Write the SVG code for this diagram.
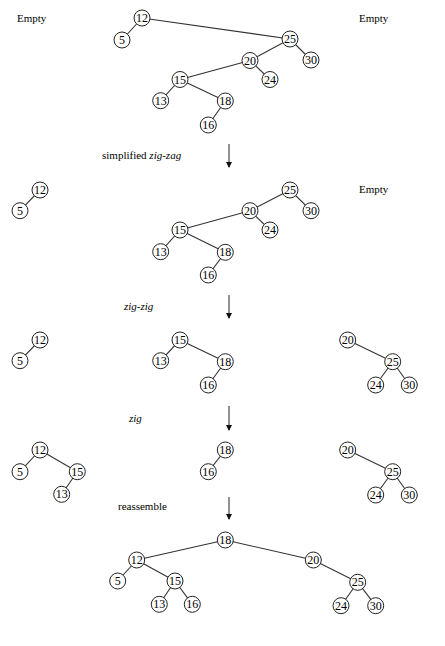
<svg xmlns="http://www.w3.org/2000/svg" width="445" height="646" viewBox="0 0 445 646">
<defs>
<marker id="ah" markerWidth="6" markerHeight="7" refX="5" refY="3" orient="auto" markerUnits="userSpaceOnUse">
<path d="M0,0 L6,3 L0,6 Z" fill="#111"/>
</marker>
<style>
.e{stroke:#333;stroke-width:1.1;fill:none}
.a{stroke:#222;stroke-width:1;fill:none;marker-end:url(#ah)}
circle{fill:#fff;stroke:#222;stroke-width:1}
text{font-family:"Liberation Serif","Times New Roman",serif;fill:#000}
.n{font-size:12px;text-anchor:middle;dominant-baseline:central}
.l{font-size:11px}
.i{font-style:italic}
</style>
</defs>
<rect width="445" height="646" fill="#fff"/>
<g id="connectors">
<line class="e" x1="142" y1="18" x2="290" y2="39"/>
<line class="e" x1="142" y1="18" x2="122" y2="40"/>
<line class="e" x1="290" y1="39" x2="250" y2="60.5"/>
<line class="e" x1="290" y1="39" x2="311" y2="60"/>
<line class="e" x1="250" y1="60.5" x2="180" y2="79.5"/>
<line class="e" x1="250" y1="60.5" x2="270" y2="79.5"/>
<line class="e" x1="180" y1="79.5" x2="160.7" y2="100.7"/>
<line class="e" x1="180" y1="79.5" x2="225.3" y2="101"/>
<line class="e" x1="225.3" y1="101" x2="208.3" y2="125"/>
<line class="e" x1="40" y1="190" x2="20" y2="210.7"/>
<line class="e" x1="290" y1="190" x2="250" y2="210.7"/>
<line class="e" x1="290" y1="190" x2="311" y2="210.7"/>
<line class="e" x1="250" y1="210.7" x2="180" y2="230"/>
<line class="e" x1="250" y1="210.7" x2="270" y2="230"/>
<line class="e" x1="180" y1="230" x2="160.7" y2="251.7"/>
<line class="e" x1="180" y1="230" x2="225.3" y2="252.3"/>
<line class="e" x1="225.3" y1="252.3" x2="208.3" y2="275"/>
<line class="e" x1="40" y1="340" x2="20" y2="360.7"/>
<line class="e" x1="180" y1="340" x2="160.7" y2="360.7"/>
<line class="e" x1="180" y1="340" x2="225.3" y2="361.7"/>
<line class="e" x1="225.3" y1="361.7" x2="208.3" y2="385"/>
<line class="e" x1="347.7" y1="340" x2="392.7" y2="361.7"/>
<line class="e" x1="392.7" y1="361.7" x2="375.7" y2="385"/>
<line class="e" x1="392.7" y1="361.7" x2="409.3" y2="385"/>
<line class="e" x1="40" y1="450" x2="20" y2="471.7"/>
<line class="e" x1="40" y1="450" x2="77.3" y2="471.7"/>
<line class="e" x1="77.3" y1="471.7" x2="61.7" y2="494.3"/>
<line class="e" x1="225.3" y1="450" x2="208.3" y2="471.7"/>
<line class="e" x1="347.7" y1="450" x2="392.7" y2="471.7"/>
<line class="e" x1="392.7" y1="471.7" x2="375.7" y2="495"/>
<line class="e" x1="392.7" y1="471.7" x2="409.3" y2="495"/>
<line class="e" x1="225.3" y1="540" x2="136.7" y2="560"/>
<line class="e" x1="225.3" y1="540" x2="313.3" y2="560"/>
<line class="e" x1="136.7" y1="560" x2="117.7" y2="581"/>
<line class="e" x1="136.7" y1="560" x2="175" y2="581"/>
<line class="e" x1="175" y1="581" x2="159.3" y2="604.3"/>
<line class="e" x1="175" y1="581" x2="192.3" y2="604.3"/>
<line class="e" x1="313.3" y1="560" x2="357.7" y2="582.3"/>
<line class="e" x1="357.7" y1="582.3" x2="341" y2="605.7"/>
<line class="e" x1="357.7" y1="582.3" x2="375.7" y2="605.7"/>
<line class="a" x1="229" y1="144" x2="229" y2="167"/>
<line class="a" x1="229" y1="295" x2="229" y2="318"/>
<line class="a" x1="229" y1="406" x2="229" y2="430"/>
<line class="a" x1="229" y1="497" x2="229" y2="519"/>
</g>
<g id="labels">
<text class="l" x="17" y="22">Empty</text>
<text class="l" x="359" y="22">Empty</text>
<text class="l" x="102" y="159">simplified <tspan class="i">zig-zag</tspan></text>
<text class="l" x="359" y="193">Empty</text>
<text class="l i" x="124" y="310">zig-zig</text>
<text class="l i" x="129" y="422">zig</text>
<text class="l" x="118" y="510">reassemble</text>
</g>
<g id="s1">
<g id="s1-12"><circle cx="142" cy="18" r="8"/><text class="n" x="142" y="18">12</text></g>
<g id="s1-5"><circle cx="122" cy="40" r="8"/><text class="n" x="122" y="40">5</text></g>
<g id="s1-25"><circle cx="290" cy="39" r="8"/><text class="n" x="290" y="39">25</text></g>
<g id="s1-30"><circle cx="311" cy="60" r="8"/><text class="n" x="311" y="60">30</text></g>
<g id="s1-20"><circle cx="250" cy="60.5" r="8"/><text class="n" x="250" y="60.5">20</text></g>
<g id="s1-24"><circle cx="270" cy="79.5" r="8"/><text class="n" x="270" y="79.5">24</text></g>
<g id="s1-15"><circle cx="180" cy="79.5" r="8"/><text class="n" x="180" y="79.5">15</text></g>
<g id="s1-13"><circle cx="160.7" cy="100.7" r="8"/><text class="n" x="160.7" y="100.7">13</text></g>
<g id="s1-18"><circle cx="225.3" cy="101" r="8"/><text class="n" x="225.3" y="101">18</text></g>
<g id="s1-16"><circle cx="208.3" cy="125" r="8"/><text class="n" x="208.3" y="125">16</text></g>
</g>
<g id="s2">
<g id="s2-12"><circle cx="40" cy="190" r="8"/><text class="n" x="40" y="190">12</text></g>
<g id="s2-5"><circle cx="20" cy="210.7" r="8"/><text class="n" x="20" y="210.7">5</text></g>
<g id="s2-25"><circle cx="290" cy="190" r="8"/><text class="n" x="290" y="190">25</text></g>
<g id="s2-30"><circle cx="311" cy="210.7" r="8"/><text class="n" x="311" y="210.7">30</text></g>
<g id="s2-20"><circle cx="250" cy="210.7" r="8"/><text class="n" x="250" y="210.7">20</text></g>
<g id="s2-24"><circle cx="270" cy="230" r="8"/><text class="n" x="270" y="230">24</text></g>
<g id="s2-15"><circle cx="180" cy="230" r="8"/><text class="n" x="180" y="230">15</text></g>
<g id="s2-13"><circle cx="160.7" cy="251.7" r="8"/><text class="n" x="160.7" y="251.7">13</text></g>
<g id="s2-18"><circle cx="225.3" cy="252.3" r="8"/><text class="n" x="225.3" y="252.3">18</text></g>
<g id="s2-16"><circle cx="208.3" cy="275" r="8"/><text class="n" x="208.3" y="275">16</text></g>
</g>
<g id="s3">
<g id="s3-12"><circle cx="40" cy="340" r="8"/><text class="n" x="40" y="340">12</text></g>
<g id="s3-5"><circle cx="20" cy="360.7" r="8"/><text class="n" x="20" y="360.7">5</text></g>
<g id="s3-15"><circle cx="180" cy="340" r="8"/><text class="n" x="180" y="340">15</text></g>
<g id="s3-13"><circle cx="160.7" cy="360.7" r="8"/><text class="n" x="160.7" y="360.7">13</text></g>
<g id="s3-18"><circle cx="225.3" cy="361.7" r="8"/><text class="n" x="225.3" y="361.7">18</text></g>
<g id="s3-16"><circle cx="208.3" cy="385" r="8"/><text class="n" x="208.3" y="385">16</text></g>
<g id="s3-20"><circle cx="347.7" cy="340" r="8"/><text class="n" x="347.7" y="340">20</text></g>
<g id="s3-25"><circle cx="392.7" cy="361.7" r="8"/><text class="n" x="392.7" y="361.7">25</text></g>
<g id="s3-24"><circle cx="375.7" cy="385" r="8"/><text class="n" x="375.7" y="385">24</text></g>
<g id="s3-30"><circle cx="409.3" cy="385" r="8"/><text class="n" x="409.3" y="385">30</text></g>
</g>
<g id="s4">
<g id="s4-12"><circle cx="40" cy="450" r="8"/><text class="n" x="40" y="450">12</text></g>
<g id="s4-5"><circle cx="20" cy="471.7" r="8"/><text class="n" x="20" y="471.7">5</text></g>
<g id="s4-15"><circle cx="77.3" cy="471.7" r="8"/><text class="n" x="77.3" y="471.7">15</text></g>
<g id="s4-13"><circle cx="61.7" cy="494.3" r="8"/><text class="n" x="61.7" y="494.3">13</text></g>
<g id="s4-18"><circle cx="225.3" cy="450" r="8"/><text class="n" x="225.3" y="450">18</text></g>
<g id="s4-16"><circle cx="208.3" cy="471.7" r="8"/><text class="n" x="208.3" y="471.7">16</text></g>
<g id="s4-20"><circle cx="347.7" cy="450" r="8"/><text class="n" x="347.7" y="450">20</text></g>
<g id="s4-25"><circle cx="392.7" cy="471.7" r="8"/><text class="n" x="392.7" y="471.7">25</text></g>
<g id="s4-24"><circle cx="375.7" cy="495" r="8"/><text class="n" x="375.7" y="495">24</text></g>
<g id="s4-30"><circle cx="409.3" cy="495" r="8"/><text class="n" x="409.3" y="495">30</text></g>
</g>
<g id="s5">
<g id="s5-18"><circle cx="225.3" cy="540" r="8"/><text class="n" x="225.3" y="540">18</text></g>
<g id="s5-12"><circle cx="136.7" cy="560" r="8"/><text class="n" x="136.7" y="560">12</text></g>
<g id="s5-5"><circle cx="117.7" cy="581" r="8"/><text class="n" x="117.7" y="581">5</text></g>
<g id="s5-15"><circle cx="175" cy="581" r="8"/><text class="n" x="175" y="581">15</text></g>
<g id="s5-13"><circle cx="159.3" cy="604.3" r="8"/><text class="n" x="159.3" y="604.3">13</text></g>
<g id="s5-16"><circle cx="192.3" cy="604.3" r="8"/><text class="n" x="192.3" y="604.3">16</text></g>
<g id="s5-20"><circle cx="313.3" cy="560" r="8"/><text class="n" x="313.3" y="560">20</text></g>
<g id="s5-25"><circle cx="357.7" cy="582.3" r="8"/><text class="n" x="357.7" y="582.3">25</text></g>
<g id="s5-24"><circle cx="341" cy="605.7" r="8"/><text class="n" x="341" y="605.7">24</text></g>
<g id="s5-30"><circle cx="375.7" cy="605.7" r="8"/><text class="n" x="375.7" y="605.7">30</text></g>
</g>
</svg>
